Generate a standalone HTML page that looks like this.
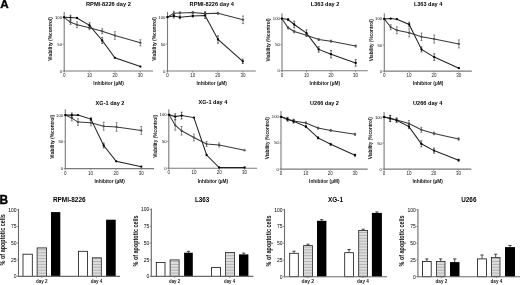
<!DOCTYPE html>
<html><head><meta charset="utf-8"><style>
html,body{margin:0;padding:0;background:#fff;}
svg{display:block;font-family:"Liberation Sans", sans-serif;filter:grayscale(1);}
</style></head><body>
<svg width="520" height="285" viewBox="0 0 520 285">
<defs><pattern id="hatch" patternUnits="userSpaceOnUse" width="4" height="2.9">
<rect width="4" height="2.9" fill="#dedede"/><rect y="0" width="4" height="1" fill="#b2b2b2"/></pattern></defs>
<rect width="520" height="285" fill="#fff"/>
<line x1="64.20" y1="12.00" x2="64.20" y2="71.50" stroke="#7a7a7a" stroke-width="1.1"/>
<line x1="63.70" y1="71.00" x2="153.00" y2="71.00" stroke="#7a7a7a" stroke-width="1.1"/>
<line x1="62.60" y1="17.30" x2="64.20" y2="17.30" stroke="#7a7a7a" stroke-width="0.8"/>
<text x="62.00" y="18.80" font-size="4.2" font-weight="normal" fill="#111" text-anchor="end" >100</text>
<line x1="62.60" y1="44.15" x2="64.20" y2="44.15" stroke="#7a7a7a" stroke-width="0.8"/>
<text x="62.00" y="45.65" font-size="4.2" font-weight="normal" fill="#111" text-anchor="end" >50</text>
<line x1="62.60" y1="71.00" x2="64.20" y2="71.00" stroke="#7a7a7a" stroke-width="0.8"/>
<text x="62.00" y="72.50" font-size="4.2" font-weight="normal" fill="#111" text-anchor="end" >0</text>
<line x1="64.20" y1="71.00" x2="64.20" y2="72.60" stroke="#7a7a7a" stroke-width="0.8"/>
<text x="64.20" y="77.00" font-size="4.5" font-weight="normal" fill="#222" text-anchor="middle" >0</text>
<line x1="89.57" y1="71.00" x2="89.57" y2="72.60" stroke="#7a7a7a" stroke-width="0.8"/>
<text x="89.57" y="77.00" font-size="4.5" font-weight="normal" fill="#222" text-anchor="middle" >10</text>
<line x1="114.93" y1="71.00" x2="114.93" y2="72.60" stroke="#7a7a7a" stroke-width="0.8"/>
<text x="114.93" y="77.00" font-size="4.5" font-weight="normal" fill="#222" text-anchor="middle" >20</text>
<line x1="140.30" y1="71.00" x2="140.30" y2="72.60" stroke="#7a7a7a" stroke-width="0.8"/>
<text x="140.30" y="77.00" font-size="4.5" font-weight="normal" fill="#222" text-anchor="middle" >30</text>
<text x="108.60" y="85.30" font-size="4.8" font-weight="bold" fill="#111" text-anchor="middle" textLength="30.50" lengthAdjust="spacingAndGlyphs" >Inhibitor (µM)</text>
<text x="52.40" y="38.90" font-size="4.6" font-weight="bold" fill="#111" text-anchor="middle" textLength="43.80" lengthAdjust="spacingAndGlyphs" transform="rotate(-90 52.40 38.90)" >Viability (%control)</text>
<text x="86.00" y="6.00" font-size="6.1" font-weight="bold" fill="#000" text-anchor="start" textLength="44.80" lengthAdjust="spacingAndGlyphs" >RPMI-8226 day 2</text>
<polyline points="64.10,17.30 70.50,22.30 77.00,24.80 89.50,27.80 102.20,31.20 114.90,35.50 140.40,42.80" fill="none" stroke="#3a3a3a" stroke-width="1.05"/>
<polyline points="64.10,17.30 70.50,17.60 77.00,18.00 89.50,25.40 102.20,40.50 114.90,57.80 140.40,66.60" fill="none" stroke="#222" stroke-width="1.05"/>
<line x1="70.50" y1="20.20" x2="70.50" y2="24.40" stroke="#444" stroke-width="0.6"/>
<line x1="69.50" y1="20.20" x2="71.50" y2="20.20" stroke="#444" stroke-width="0.6"/>
<line x1="69.50" y1="24.40" x2="71.50" y2="24.40" stroke="#444" stroke-width="0.6"/>
<line x1="77.00" y1="21.90" x2="77.00" y2="27.70" stroke="#444" stroke-width="0.6"/>
<line x1="76.00" y1="21.90" x2="78.00" y2="21.90" stroke="#444" stroke-width="0.6"/>
<line x1="76.00" y1="27.70" x2="78.00" y2="27.70" stroke="#444" stroke-width="0.6"/>
<line x1="89.50" y1="26.00" x2="89.50" y2="29.60" stroke="#444" stroke-width="0.6"/>
<line x1="88.50" y1="26.00" x2="90.50" y2="26.00" stroke="#444" stroke-width="0.6"/>
<line x1="88.50" y1="29.60" x2="90.50" y2="29.60" stroke="#444" stroke-width="0.6"/>
<line x1="102.20" y1="28.70" x2="102.20" y2="33.70" stroke="#444" stroke-width="0.6"/>
<line x1="101.20" y1="28.70" x2="103.20" y2="28.70" stroke="#444" stroke-width="0.6"/>
<line x1="101.20" y1="33.70" x2="103.20" y2="33.70" stroke="#444" stroke-width="0.6"/>
<line x1="114.90" y1="31.70" x2="114.90" y2="39.30" stroke="#444" stroke-width="0.6"/>
<line x1="113.90" y1="31.70" x2="115.90" y2="31.70" stroke="#444" stroke-width="0.6"/>
<line x1="113.90" y1="39.30" x2="115.90" y2="39.30" stroke="#444" stroke-width="0.6"/>
<line x1="140.40" y1="39.70" x2="140.40" y2="45.90" stroke="#444" stroke-width="0.6"/>
<line x1="139.40" y1="39.70" x2="141.40" y2="39.70" stroke="#444" stroke-width="0.6"/>
<line x1="139.40" y1="45.90" x2="141.40" y2="45.90" stroke="#444" stroke-width="0.6"/>
<line x1="70.50" y1="15.20" x2="70.50" y2="20.00" stroke="#111" stroke-width="0.6"/>
<line x1="69.50" y1="15.20" x2="71.50" y2="15.20" stroke="#111" stroke-width="0.6"/>
<line x1="69.50" y1="20.00" x2="71.50" y2="20.00" stroke="#111" stroke-width="0.6"/>
<line x1="89.50" y1="22.80" x2="89.50" y2="28.00" stroke="#111" stroke-width="0.6"/>
<line x1="88.50" y1="22.80" x2="90.50" y2="22.80" stroke="#111" stroke-width="0.6"/>
<line x1="88.50" y1="28.00" x2="90.50" y2="28.00" stroke="#111" stroke-width="0.6"/>
<line x1="102.20" y1="37.60" x2="102.20" y2="43.40" stroke="#111" stroke-width="0.6"/>
<line x1="101.20" y1="37.60" x2="103.20" y2="37.60" stroke="#111" stroke-width="0.6"/>
<line x1="101.20" y1="43.40" x2="103.20" y2="43.40" stroke="#111" stroke-width="0.6"/>
<circle cx="64.10" cy="17.30" r="0.95" fill="#555" stroke="#333" stroke-width="0.3"/>
<circle cx="70.50" cy="22.30" r="0.95" fill="#555" stroke="#333" stroke-width="0.3"/>
<circle cx="77.00" cy="24.80" r="0.95" fill="#555" stroke="#333" stroke-width="0.3"/>
<circle cx="89.50" cy="27.80" r="0.95" fill="#555" stroke="#333" stroke-width="0.3"/>
<circle cx="102.20" cy="31.20" r="0.95" fill="#555" stroke="#333" stroke-width="0.3"/>
<circle cx="114.90" cy="35.50" r="0.95" fill="#555" stroke="#333" stroke-width="0.3"/>
<circle cx="140.40" cy="42.80" r="0.95" fill="#555" stroke="#333" stroke-width="0.3"/>
<circle cx="64.10" cy="17.30" r="1.15" fill="#000" stroke="none" stroke-width="0"/>
<circle cx="70.50" cy="17.60" r="1.15" fill="#000" stroke="none" stroke-width="0"/>
<circle cx="77.00" cy="18.00" r="1.15" fill="#000" stroke="none" stroke-width="0"/>
<circle cx="89.50" cy="25.40" r="1.15" fill="#000" stroke="none" stroke-width="0"/>
<circle cx="102.20" cy="40.50" r="1.15" fill="#000" stroke="none" stroke-width="0"/>
<circle cx="114.90" cy="57.80" r="1.15" fill="#000" stroke="none" stroke-width="0"/>
<circle cx="140.40" cy="66.60" r="1.15" fill="#000" stroke="none" stroke-width="0"/>
<line x1="167.50" y1="11.90" x2="167.50" y2="71.50" stroke="#7a7a7a" stroke-width="1.1"/>
<line x1="167.00" y1="71.00" x2="255.80" y2="71.00" stroke="#7a7a7a" stroke-width="1.1"/>
<line x1="165.90" y1="17.15" x2="167.50" y2="17.15" stroke="#7a7a7a" stroke-width="0.8"/>
<text x="165.30" y="18.65" font-size="4.2" font-weight="normal" fill="#111" text-anchor="end" >100</text>
<line x1="165.90" y1="44.08" x2="167.50" y2="44.08" stroke="#7a7a7a" stroke-width="0.8"/>
<text x="165.30" y="45.58" font-size="4.2" font-weight="normal" fill="#111" text-anchor="end" >50</text>
<line x1="165.90" y1="71.00" x2="167.50" y2="71.00" stroke="#7a7a7a" stroke-width="0.8"/>
<text x="165.30" y="72.50" font-size="4.2" font-weight="normal" fill="#111" text-anchor="end" >0</text>
<line x1="167.50" y1="71.00" x2="167.50" y2="72.60" stroke="#7a7a7a" stroke-width="0.8"/>
<text x="167.50" y="77.00" font-size="4.5" font-weight="normal" fill="#222" text-anchor="middle" >0</text>
<line x1="192.67" y1="71.00" x2="192.67" y2="72.60" stroke="#7a7a7a" stroke-width="0.8"/>
<text x="192.67" y="77.00" font-size="4.5" font-weight="normal" fill="#222" text-anchor="middle" >10</text>
<line x1="217.83" y1="71.00" x2="217.83" y2="72.60" stroke="#7a7a7a" stroke-width="0.8"/>
<text x="217.83" y="77.00" font-size="4.5" font-weight="normal" fill="#222" text-anchor="middle" >20</text>
<line x1="243.00" y1="71.00" x2="243.00" y2="72.60" stroke="#7a7a7a" stroke-width="0.8"/>
<text x="243.00" y="77.00" font-size="4.5" font-weight="normal" fill="#222" text-anchor="middle" >30</text>
<text x="211.65" y="85.30" font-size="4.8" font-weight="bold" fill="#111" text-anchor="middle" textLength="30.50" lengthAdjust="spacingAndGlyphs" >Inhibitor (µM)</text>
<text x="156.20" y="38.90" font-size="4.6" font-weight="bold" fill="#111" text-anchor="middle" textLength="43.80" lengthAdjust="spacingAndGlyphs" transform="rotate(-90 156.20 38.90)" >Viability (%control)</text>
<text x="189.60" y="6.00" font-size="6.1" font-weight="bold" fill="#000" text-anchor="start" textLength="44.40" lengthAdjust="spacingAndGlyphs" >RPMI-8226 day 4</text>
<polyline points="167.50,17.10 173.80,13.20 179.90,12.90 192.80,12.50 205.10,13.60 218.00,13.30 243.00,19.80" fill="none" stroke="#3a3a3a" stroke-width="1.05"/>
<polyline points="167.50,17.10 173.80,16.00 179.90,17.30 192.80,16.00 205.10,15.50 218.00,39.50 242.80,61.30" fill="none" stroke="#222" stroke-width="1.05"/>
<line x1="173.80" y1="11.20" x2="173.80" y2="15.20" stroke="#444" stroke-width="0.6"/>
<line x1="172.80" y1="11.20" x2="174.80" y2="11.20" stroke="#444" stroke-width="0.6"/>
<line x1="172.80" y1="15.20" x2="174.80" y2="15.20" stroke="#444" stroke-width="0.6"/>
<line x1="179.90" y1="11.90" x2="179.90" y2="13.90" stroke="#444" stroke-width="0.6"/>
<line x1="178.90" y1="11.90" x2="180.90" y2="11.90" stroke="#444" stroke-width="0.6"/>
<line x1="178.90" y1="13.90" x2="180.90" y2="13.90" stroke="#444" stroke-width="0.6"/>
<line x1="192.80" y1="11.50" x2="192.80" y2="13.50" stroke="#444" stroke-width="0.6"/>
<line x1="191.80" y1="11.50" x2="193.80" y2="11.50" stroke="#444" stroke-width="0.6"/>
<line x1="191.80" y1="13.50" x2="193.80" y2="13.50" stroke="#444" stroke-width="0.6"/>
<line x1="205.10" y1="11.60" x2="205.10" y2="15.60" stroke="#444" stroke-width="0.6"/>
<line x1="204.10" y1="11.60" x2="206.10" y2="11.60" stroke="#444" stroke-width="0.6"/>
<line x1="204.10" y1="15.60" x2="206.10" y2="15.60" stroke="#444" stroke-width="0.6"/>
<line x1="218.00" y1="12.30" x2="218.00" y2="14.30" stroke="#444" stroke-width="0.6"/>
<line x1="217.00" y1="12.30" x2="219.00" y2="12.30" stroke="#444" stroke-width="0.6"/>
<line x1="217.00" y1="14.30" x2="219.00" y2="14.30" stroke="#444" stroke-width="0.6"/>
<line x1="243.00" y1="16.00" x2="243.00" y2="23.60" stroke="#444" stroke-width="0.6"/>
<line x1="242.00" y1="16.00" x2="244.00" y2="16.00" stroke="#444" stroke-width="0.6"/>
<line x1="242.00" y1="23.60" x2="244.00" y2="23.60" stroke="#444" stroke-width="0.6"/>
<line x1="173.80" y1="14.00" x2="173.80" y2="18.00" stroke="#111" stroke-width="0.6"/>
<line x1="172.80" y1="14.00" x2="174.80" y2="14.00" stroke="#111" stroke-width="0.6"/>
<line x1="172.80" y1="18.00" x2="174.80" y2="18.00" stroke="#111" stroke-width="0.6"/>
<line x1="179.90" y1="15.80" x2="179.90" y2="18.80" stroke="#111" stroke-width="0.6"/>
<line x1="178.90" y1="15.80" x2="180.90" y2="15.80" stroke="#111" stroke-width="0.6"/>
<line x1="178.90" y1="18.80" x2="180.90" y2="18.80" stroke="#111" stroke-width="0.6"/>
<line x1="192.80" y1="15.00" x2="192.80" y2="17.00" stroke="#111" stroke-width="0.6"/>
<line x1="191.80" y1="15.00" x2="193.80" y2="15.00" stroke="#111" stroke-width="0.6"/>
<line x1="191.80" y1="17.00" x2="193.80" y2="17.00" stroke="#111" stroke-width="0.6"/>
<line x1="205.10" y1="12.50" x2="205.10" y2="18.50" stroke="#111" stroke-width="0.6"/>
<line x1="204.10" y1="12.50" x2="206.10" y2="12.50" stroke="#111" stroke-width="0.6"/>
<line x1="204.10" y1="18.50" x2="206.10" y2="18.50" stroke="#111" stroke-width="0.6"/>
<line x1="218.00" y1="35.80" x2="218.00" y2="43.20" stroke="#111" stroke-width="0.6"/>
<line x1="217.00" y1="35.80" x2="219.00" y2="35.80" stroke="#111" stroke-width="0.6"/>
<line x1="217.00" y1="43.20" x2="219.00" y2="43.20" stroke="#111" stroke-width="0.6"/>
<line x1="242.80" y1="59.10" x2="242.80" y2="63.50" stroke="#111" stroke-width="0.6"/>
<line x1="241.80" y1="59.10" x2="243.80" y2="59.10" stroke="#111" stroke-width="0.6"/>
<line x1="241.80" y1="63.50" x2="243.80" y2="63.50" stroke="#111" stroke-width="0.6"/>
<circle cx="167.50" cy="17.10" r="0.95" fill="#555" stroke="#333" stroke-width="0.3"/>
<circle cx="173.80" cy="13.20" r="0.95" fill="#555" stroke="#333" stroke-width="0.3"/>
<circle cx="179.90" cy="12.90" r="0.95" fill="#555" stroke="#333" stroke-width="0.3"/>
<circle cx="192.80" cy="12.50" r="0.95" fill="#555" stroke="#333" stroke-width="0.3"/>
<circle cx="205.10" cy="13.60" r="0.95" fill="#555" stroke="#333" stroke-width="0.3"/>
<circle cx="218.00" cy="13.30" r="0.95" fill="#555" stroke="#333" stroke-width="0.3"/>
<circle cx="243.00" cy="19.80" r="0.95" fill="#555" stroke="#333" stroke-width="0.3"/>
<circle cx="167.50" cy="17.10" r="1.15" fill="#000" stroke="none" stroke-width="0"/>
<circle cx="173.80" cy="16.00" r="1.15" fill="#000" stroke="none" stroke-width="0"/>
<circle cx="179.90" cy="17.30" r="1.15" fill="#000" stroke="none" stroke-width="0"/>
<circle cx="192.80" cy="16.00" r="1.15" fill="#000" stroke="none" stroke-width="0"/>
<circle cx="205.10" cy="15.50" r="1.15" fill="#000" stroke="none" stroke-width="0"/>
<circle cx="218.00" cy="39.50" r="1.15" fill="#000" stroke="none" stroke-width="0"/>
<circle cx="242.80" cy="61.30" r="1.15" fill="#000" stroke="none" stroke-width="0"/>
<line x1="282.00" y1="13.20" x2="282.00" y2="71.30" stroke="#7a7a7a" stroke-width="1.1"/>
<line x1="281.50" y1="70.80" x2="367.70" y2="70.80" stroke="#7a7a7a" stroke-width="1.1"/>
<line x1="280.40" y1="18.60" x2="282.00" y2="18.60" stroke="#7a7a7a" stroke-width="0.8"/>
<text x="279.80" y="20.10" font-size="4.2" font-weight="normal" fill="#111" text-anchor="end" >100</text>
<line x1="280.40" y1="44.70" x2="282.00" y2="44.70" stroke="#7a7a7a" stroke-width="0.8"/>
<text x="279.80" y="46.20" font-size="4.2" font-weight="normal" fill="#111" text-anchor="end" >50</text>
<line x1="280.40" y1="70.80" x2="282.00" y2="70.80" stroke="#7a7a7a" stroke-width="0.8"/>
<text x="279.80" y="72.30" font-size="4.2" font-weight="normal" fill="#111" text-anchor="end" >0</text>
<line x1="282.00" y1="70.80" x2="282.00" y2="72.40" stroke="#7a7a7a" stroke-width="0.8"/>
<text x="282.00" y="76.80" font-size="4.5" font-weight="normal" fill="#222" text-anchor="middle" >0</text>
<line x1="306.53" y1="70.80" x2="306.53" y2="72.40" stroke="#7a7a7a" stroke-width="0.8"/>
<text x="306.53" y="76.80" font-size="4.5" font-weight="normal" fill="#222" text-anchor="middle" >10</text>
<line x1="331.07" y1="70.80" x2="331.07" y2="72.40" stroke="#7a7a7a" stroke-width="0.8"/>
<text x="331.07" y="76.80" font-size="4.5" font-weight="normal" fill="#222" text-anchor="middle" >20</text>
<line x1="355.60" y1="70.80" x2="355.60" y2="72.40" stroke="#7a7a7a" stroke-width="0.8"/>
<text x="355.60" y="76.80" font-size="4.5" font-weight="normal" fill="#222" text-anchor="middle" >30</text>
<text x="324.85" y="85.10" font-size="4.8" font-weight="bold" fill="#111" text-anchor="middle" textLength="30.50" lengthAdjust="spacingAndGlyphs" >Inhibitor (µM)</text>
<text x="270.50" y="39.95" font-size="4.6" font-weight="bold" fill="#111" text-anchor="middle" textLength="43.30" lengthAdjust="spacingAndGlyphs" transform="rotate(-90 270.50 39.95)" >Viability (%control)</text>
<text x="310.80" y="6.00" font-size="6.1" font-weight="bold" fill="#000" text-anchor="start" textLength="28.60" lengthAdjust="spacingAndGlyphs" >L363 day 2</text>
<polyline points="281.90,18.60 288.10,27.80 294.20,31.50 306.50,35.20 318.70,39.50 331.00,41.20 355.70,46.00" fill="none" stroke="#3a3a3a" stroke-width="1.05"/>
<polyline points="281.90,18.60 288.10,19.60 294.20,24.50 306.50,33.10 318.70,49.40 331.00,54.20 355.70,62.90" fill="none" stroke="#222" stroke-width="1.05"/>
<line x1="288.10" y1="26.80" x2="288.10" y2="28.80" stroke="#444" stroke-width="0.6"/>
<line x1="287.10" y1="26.80" x2="289.10" y2="26.80" stroke="#444" stroke-width="0.6"/>
<line x1="287.10" y1="28.80" x2="289.10" y2="28.80" stroke="#444" stroke-width="0.6"/>
<line x1="294.20" y1="30.20" x2="294.20" y2="32.80" stroke="#444" stroke-width="0.6"/>
<line x1="293.20" y1="30.20" x2="295.20" y2="30.20" stroke="#444" stroke-width="0.6"/>
<line x1="293.20" y1="32.80" x2="295.20" y2="32.80" stroke="#444" stroke-width="0.6"/>
<line x1="306.50" y1="34.20" x2="306.50" y2="36.20" stroke="#444" stroke-width="0.6"/>
<line x1="305.50" y1="34.20" x2="307.50" y2="34.20" stroke="#444" stroke-width="0.6"/>
<line x1="305.50" y1="36.20" x2="307.50" y2="36.20" stroke="#444" stroke-width="0.6"/>
<line x1="318.70" y1="38.50" x2="318.70" y2="40.50" stroke="#444" stroke-width="0.6"/>
<line x1="317.70" y1="38.50" x2="319.70" y2="38.50" stroke="#444" stroke-width="0.6"/>
<line x1="317.70" y1="40.50" x2="319.70" y2="40.50" stroke="#444" stroke-width="0.6"/>
<line x1="331.00" y1="40.20" x2="331.00" y2="42.20" stroke="#444" stroke-width="0.6"/>
<line x1="330.00" y1="40.20" x2="332.00" y2="40.20" stroke="#444" stroke-width="0.6"/>
<line x1="330.00" y1="42.20" x2="332.00" y2="42.20" stroke="#444" stroke-width="0.6"/>
<line x1="355.70" y1="45.00" x2="355.70" y2="47.00" stroke="#444" stroke-width="0.6"/>
<line x1="354.70" y1="45.00" x2="356.70" y2="45.00" stroke="#444" stroke-width="0.6"/>
<line x1="354.70" y1="47.00" x2="356.70" y2="47.00" stroke="#444" stroke-width="0.6"/>
<line x1="288.10" y1="18.60" x2="288.10" y2="20.60" stroke="#111" stroke-width="0.6"/>
<line x1="287.10" y1="18.60" x2="289.10" y2="18.60" stroke="#111" stroke-width="0.6"/>
<line x1="287.10" y1="20.60" x2="289.10" y2="20.60" stroke="#111" stroke-width="0.6"/>
<line x1="294.20" y1="21.20" x2="294.20" y2="27.80" stroke="#111" stroke-width="0.6"/>
<line x1="293.20" y1="21.20" x2="295.20" y2="21.20" stroke="#111" stroke-width="0.6"/>
<line x1="293.20" y1="27.80" x2="295.20" y2="27.80" stroke="#111" stroke-width="0.6"/>
<line x1="306.50" y1="29.90" x2="306.50" y2="36.30" stroke="#111" stroke-width="0.6"/>
<line x1="305.50" y1="29.90" x2="307.50" y2="29.90" stroke="#111" stroke-width="0.6"/>
<line x1="305.50" y1="36.30" x2="307.50" y2="36.30" stroke="#111" stroke-width="0.6"/>
<line x1="318.70" y1="46.70" x2="318.70" y2="52.10" stroke="#111" stroke-width="0.6"/>
<line x1="317.70" y1="46.70" x2="319.70" y2="46.70" stroke="#111" stroke-width="0.6"/>
<line x1="317.70" y1="52.10" x2="319.70" y2="52.10" stroke="#111" stroke-width="0.6"/>
<line x1="331.00" y1="50.50" x2="331.00" y2="57.90" stroke="#111" stroke-width="0.6"/>
<line x1="330.00" y1="50.50" x2="332.00" y2="50.50" stroke="#111" stroke-width="0.6"/>
<line x1="330.00" y1="57.90" x2="332.00" y2="57.90" stroke="#111" stroke-width="0.6"/>
<line x1="355.70" y1="59.60" x2="355.70" y2="66.20" stroke="#111" stroke-width="0.6"/>
<line x1="354.70" y1="59.60" x2="356.70" y2="59.60" stroke="#111" stroke-width="0.6"/>
<line x1="354.70" y1="66.20" x2="356.70" y2="66.20" stroke="#111" stroke-width="0.6"/>
<circle cx="281.90" cy="18.60" r="0.95" fill="#555" stroke="#333" stroke-width="0.3"/>
<circle cx="288.10" cy="27.80" r="0.95" fill="#555" stroke="#333" stroke-width="0.3"/>
<circle cx="294.20" cy="31.50" r="0.95" fill="#555" stroke="#333" stroke-width="0.3"/>
<circle cx="306.50" cy="35.20" r="0.95" fill="#555" stroke="#333" stroke-width="0.3"/>
<circle cx="318.70" cy="39.50" r="0.95" fill="#555" stroke="#333" stroke-width="0.3"/>
<circle cx="331.00" cy="41.20" r="0.95" fill="#555" stroke="#333" stroke-width="0.3"/>
<circle cx="355.70" cy="46.00" r="0.95" fill="#555" stroke="#333" stroke-width="0.3"/>
<circle cx="281.90" cy="18.60" r="1.15" fill="#000" stroke="none" stroke-width="0"/>
<circle cx="288.10" cy="19.60" r="1.15" fill="#000" stroke="none" stroke-width="0"/>
<circle cx="294.20" cy="24.50" r="1.15" fill="#000" stroke="none" stroke-width="0"/>
<circle cx="306.50" cy="33.10" r="1.15" fill="#000" stroke="none" stroke-width="0"/>
<circle cx="318.70" cy="49.40" r="1.15" fill="#000" stroke="none" stroke-width="0"/>
<circle cx="331.00" cy="54.20" r="1.15" fill="#000" stroke="none" stroke-width="0"/>
<circle cx="355.70" cy="62.90" r="1.15" fill="#000" stroke="none" stroke-width="0"/>
<line x1="384.30" y1="13.30" x2="384.30" y2="71.60" stroke="#7a7a7a" stroke-width="1.1"/>
<line x1="383.80" y1="71.10" x2="471.80" y2="71.10" stroke="#7a7a7a" stroke-width="1.1"/>
<line x1="382.70" y1="18.90" x2="384.30" y2="18.90" stroke="#7a7a7a" stroke-width="0.8"/>
<text x="382.10" y="20.40" font-size="4.2" font-weight="normal" fill="#111" text-anchor="end" >100</text>
<line x1="382.70" y1="45.00" x2="384.30" y2="45.00" stroke="#7a7a7a" stroke-width="0.8"/>
<text x="382.10" y="46.50" font-size="4.2" font-weight="normal" fill="#111" text-anchor="end" >50</text>
<line x1="382.70" y1="71.10" x2="384.30" y2="71.10" stroke="#7a7a7a" stroke-width="0.8"/>
<text x="382.10" y="72.60" font-size="4.2" font-weight="normal" fill="#111" text-anchor="end" >0</text>
<line x1="384.30" y1="71.10" x2="384.30" y2="72.70" stroke="#7a7a7a" stroke-width="0.8"/>
<text x="384.30" y="77.10" font-size="4.5" font-weight="normal" fill="#222" text-anchor="middle" >0</text>
<line x1="409.13" y1="71.10" x2="409.13" y2="72.70" stroke="#7a7a7a" stroke-width="0.8"/>
<text x="409.13" y="77.10" font-size="4.5" font-weight="normal" fill="#222" text-anchor="middle" >10</text>
<line x1="433.97" y1="71.10" x2="433.97" y2="72.70" stroke="#7a7a7a" stroke-width="0.8"/>
<text x="433.97" y="77.10" font-size="4.5" font-weight="normal" fill="#222" text-anchor="middle" >20</text>
<line x1="458.80" y1="71.10" x2="458.80" y2="72.70" stroke="#7a7a7a" stroke-width="0.8"/>
<text x="458.80" y="77.10" font-size="4.5" font-weight="normal" fill="#222" text-anchor="middle" >30</text>
<text x="428.05" y="85.40" font-size="4.8" font-weight="bold" fill="#111" text-anchor="middle" textLength="30.50" lengthAdjust="spacingAndGlyphs" >Inhibitor (µM)</text>
<text x="372.80" y="40.15" font-size="4.6" font-weight="bold" fill="#111" text-anchor="middle" textLength="42.10" lengthAdjust="spacingAndGlyphs" transform="rotate(-90 372.80 40.15)" >Viability (%control)</text>
<text x="413.90" y="6.20" font-size="6.1" font-weight="bold" fill="#000" text-anchor="start" textLength="28.40" lengthAdjust="spacingAndGlyphs" >L363 day 4</text>
<polyline points="384.30,18.90 390.70,27.20 396.90,30.30 409.20,32.80 421.50,36.80 434.20,39.00 458.90,43.90" fill="none" stroke="#3a3a3a" stroke-width="1.05"/>
<polyline points="384.30,18.90 390.70,18.60 396.90,19.20 409.20,24.50 421.50,49.40 434.20,57.10 458.90,68.20" fill="none" stroke="#222" stroke-width="1.05"/>
<line x1="390.70" y1="24.70" x2="390.70" y2="29.70" stroke="#444" stroke-width="0.6"/>
<line x1="389.70" y1="24.70" x2="391.70" y2="24.70" stroke="#444" stroke-width="0.6"/>
<line x1="389.70" y1="29.70" x2="391.70" y2="29.70" stroke="#444" stroke-width="0.6"/>
<line x1="396.90" y1="26.90" x2="396.90" y2="33.70" stroke="#444" stroke-width="0.6"/>
<line x1="395.90" y1="26.90" x2="397.90" y2="26.90" stroke="#444" stroke-width="0.6"/>
<line x1="395.90" y1="33.70" x2="397.90" y2="33.70" stroke="#444" stroke-width="0.6"/>
<line x1="409.20" y1="28.80" x2="409.20" y2="36.80" stroke="#444" stroke-width="0.6"/>
<line x1="408.20" y1="28.80" x2="410.20" y2="28.80" stroke="#444" stroke-width="0.6"/>
<line x1="408.20" y1="36.80" x2="410.20" y2="36.80" stroke="#444" stroke-width="0.6"/>
<line x1="421.50" y1="33.10" x2="421.50" y2="40.50" stroke="#444" stroke-width="0.6"/>
<line x1="420.50" y1="33.10" x2="422.50" y2="33.10" stroke="#444" stroke-width="0.6"/>
<line x1="420.50" y1="40.50" x2="422.50" y2="40.50" stroke="#444" stroke-width="0.6"/>
<line x1="434.20" y1="35.00" x2="434.20" y2="43.00" stroke="#444" stroke-width="0.6"/>
<line x1="433.20" y1="35.00" x2="435.20" y2="35.00" stroke="#444" stroke-width="0.6"/>
<line x1="433.20" y1="43.00" x2="435.20" y2="43.00" stroke="#444" stroke-width="0.6"/>
<line x1="458.90" y1="39.90" x2="458.90" y2="47.90" stroke="#444" stroke-width="0.6"/>
<line x1="457.90" y1="39.90" x2="459.90" y2="39.90" stroke="#444" stroke-width="0.6"/>
<line x1="457.90" y1="47.90" x2="459.90" y2="47.90" stroke="#444" stroke-width="0.6"/>
<line x1="409.20" y1="22.20" x2="409.20" y2="26.80" stroke="#111" stroke-width="0.6"/>
<line x1="408.20" y1="22.20" x2="410.20" y2="22.20" stroke="#111" stroke-width="0.6"/>
<line x1="408.20" y1="26.80" x2="410.20" y2="26.80" stroke="#111" stroke-width="0.6"/>
<line x1="421.50" y1="46.90" x2="421.50" y2="51.90" stroke="#111" stroke-width="0.6"/>
<line x1="420.50" y1="46.90" x2="422.50" y2="46.90" stroke="#111" stroke-width="0.6"/>
<line x1="420.50" y1="51.90" x2="422.50" y2="51.90" stroke="#111" stroke-width="0.6"/>
<line x1="434.20" y1="53.80" x2="434.20" y2="60.40" stroke="#111" stroke-width="0.6"/>
<line x1="433.20" y1="53.80" x2="435.20" y2="53.80" stroke="#111" stroke-width="0.6"/>
<line x1="433.20" y1="60.40" x2="435.20" y2="60.40" stroke="#111" stroke-width="0.6"/>
<circle cx="384.30" cy="18.90" r="0.95" fill="#555" stroke="#333" stroke-width="0.3"/>
<circle cx="390.70" cy="27.20" r="0.95" fill="#555" stroke="#333" stroke-width="0.3"/>
<circle cx="396.90" cy="30.30" r="0.95" fill="#555" stroke="#333" stroke-width="0.3"/>
<circle cx="409.20" cy="32.80" r="0.95" fill="#555" stroke="#333" stroke-width="0.3"/>
<circle cx="421.50" cy="36.80" r="0.95" fill="#555" stroke="#333" stroke-width="0.3"/>
<circle cx="434.20" cy="39.00" r="0.95" fill="#555" stroke="#333" stroke-width="0.3"/>
<circle cx="458.90" cy="43.90" r="0.95" fill="#555" stroke="#333" stroke-width="0.3"/>
<circle cx="384.30" cy="18.90" r="1.15" fill="#000" stroke="none" stroke-width="0"/>
<circle cx="390.70" cy="18.60" r="1.15" fill="#000" stroke="none" stroke-width="0"/>
<circle cx="396.90" cy="19.20" r="1.15" fill="#000" stroke="none" stroke-width="0"/>
<circle cx="409.20" cy="24.50" r="1.15" fill="#000" stroke="none" stroke-width="0"/>
<circle cx="421.50" cy="49.40" r="1.15" fill="#000" stroke="none" stroke-width="0"/>
<circle cx="434.20" cy="57.10" r="1.15" fill="#000" stroke="none" stroke-width="0"/>
<circle cx="458.90" cy="68.20" r="1.15" fill="#000" stroke="none" stroke-width="0"/>
<line x1="65.30" y1="109.20" x2="65.30" y2="169.10" stroke="#7a7a7a" stroke-width="1.1"/>
<line x1="64.80" y1="168.60" x2="154.00" y2="168.60" stroke="#7a7a7a" stroke-width="1.1"/>
<line x1="63.70" y1="115.10" x2="65.30" y2="115.10" stroke="#7a7a7a" stroke-width="0.8"/>
<text x="63.10" y="116.60" font-size="4.2" font-weight="normal" fill="#111" text-anchor="end" >100</text>
<line x1="63.70" y1="141.85" x2="65.30" y2="141.85" stroke="#7a7a7a" stroke-width="0.8"/>
<text x="63.10" y="143.35" font-size="4.2" font-weight="normal" fill="#111" text-anchor="end" >50</text>
<line x1="63.70" y1="168.60" x2="65.30" y2="168.60" stroke="#7a7a7a" stroke-width="0.8"/>
<text x="63.10" y="170.10" font-size="4.2" font-weight="normal" fill="#111" text-anchor="end" >0</text>
<line x1="65.30" y1="168.60" x2="65.30" y2="170.20" stroke="#7a7a7a" stroke-width="0.8"/>
<text x="65.30" y="174.60" font-size="4.5" font-weight="normal" fill="#222" text-anchor="middle" >0</text>
<line x1="90.63" y1="168.60" x2="90.63" y2="170.20" stroke="#7a7a7a" stroke-width="0.8"/>
<text x="90.63" y="174.60" font-size="4.5" font-weight="normal" fill="#222" text-anchor="middle" >10</text>
<line x1="115.97" y1="168.60" x2="115.97" y2="170.20" stroke="#7a7a7a" stroke-width="0.8"/>
<text x="115.97" y="174.60" font-size="4.5" font-weight="normal" fill="#222" text-anchor="middle" >20</text>
<line x1="141.30" y1="168.60" x2="141.30" y2="170.20" stroke="#7a7a7a" stroke-width="0.8"/>
<text x="141.30" y="174.60" font-size="4.5" font-weight="normal" fill="#222" text-anchor="middle" >30</text>
<text x="109.65" y="182.90" font-size="4.8" font-weight="bold" fill="#111" text-anchor="middle" textLength="30.50" lengthAdjust="spacingAndGlyphs" >Inhibitor (µM)</text>
<text x="54.10" y="136.80" font-size="4.6" font-weight="bold" fill="#111" text-anchor="middle" textLength="44.00" lengthAdjust="spacingAndGlyphs" transform="rotate(-90 54.10 136.80)" >Viability (%control)</text>
<text x="95.60" y="104.60" font-size="6.1" font-weight="bold" fill="#000" text-anchor="start" textLength="28.80" lengthAdjust="spacingAndGlyphs" >XG-1 day 2</text>
<polyline points="65.40,115.10 71.80,118.10 78.00,122.10 90.90,122.80 103.70,126.20 116.60,127.00 141.30,130.40" fill="none" stroke="#3a3a3a" stroke-width="1.05"/>
<polyline points="65.40,115.10 71.80,115.10 78.00,115.10 90.90,119.10 103.70,145.50 116.20,161.30 141.30,166.70" fill="none" stroke="#222" stroke-width="1.05"/>
<line x1="71.80" y1="115.30" x2="71.80" y2="120.90" stroke="#444" stroke-width="0.6"/>
<line x1="70.80" y1="115.30" x2="72.80" y2="115.30" stroke="#444" stroke-width="0.6"/>
<line x1="70.80" y1="120.90" x2="72.80" y2="120.90" stroke="#444" stroke-width="0.6"/>
<line x1="78.00" y1="118.80" x2="78.00" y2="125.40" stroke="#444" stroke-width="0.6"/>
<line x1="77.00" y1="118.80" x2="79.00" y2="118.80" stroke="#444" stroke-width="0.6"/>
<line x1="77.00" y1="125.40" x2="79.00" y2="125.40" stroke="#444" stroke-width="0.6"/>
<line x1="90.90" y1="119.80" x2="90.90" y2="125.80" stroke="#444" stroke-width="0.6"/>
<line x1="89.90" y1="119.80" x2="91.90" y2="119.80" stroke="#444" stroke-width="0.6"/>
<line x1="89.90" y1="125.80" x2="91.90" y2="125.80" stroke="#444" stroke-width="0.6"/>
<line x1="103.70" y1="122.20" x2="103.70" y2="130.20" stroke="#444" stroke-width="0.6"/>
<line x1="102.70" y1="122.20" x2="104.70" y2="122.20" stroke="#444" stroke-width="0.6"/>
<line x1="102.70" y1="130.20" x2="104.70" y2="130.20" stroke="#444" stroke-width="0.6"/>
<line x1="116.60" y1="122.70" x2="116.60" y2="131.30" stroke="#444" stroke-width="0.6"/>
<line x1="115.60" y1="122.70" x2="117.60" y2="122.70" stroke="#444" stroke-width="0.6"/>
<line x1="115.60" y1="131.30" x2="117.60" y2="131.30" stroke="#444" stroke-width="0.6"/>
<line x1="141.30" y1="126.50" x2="141.30" y2="134.30" stroke="#444" stroke-width="0.6"/>
<line x1="140.30" y1="126.50" x2="142.30" y2="126.50" stroke="#444" stroke-width="0.6"/>
<line x1="140.30" y1="134.30" x2="142.30" y2="134.30" stroke="#444" stroke-width="0.6"/>
<line x1="71.80" y1="113.00" x2="71.80" y2="117.20" stroke="#111" stroke-width="0.6"/>
<line x1="70.80" y1="113.00" x2="72.80" y2="113.00" stroke="#111" stroke-width="0.6"/>
<line x1="70.80" y1="117.20" x2="72.80" y2="117.20" stroke="#111" stroke-width="0.6"/>
<line x1="90.90" y1="117.70" x2="90.90" y2="120.50" stroke="#111" stroke-width="0.6"/>
<line x1="89.90" y1="117.70" x2="91.90" y2="117.70" stroke="#111" stroke-width="0.6"/>
<line x1="89.90" y1="120.50" x2="91.90" y2="120.50" stroke="#111" stroke-width="0.6"/>
<line x1="103.70" y1="143.10" x2="103.70" y2="147.90" stroke="#111" stroke-width="0.6"/>
<line x1="102.70" y1="143.10" x2="104.70" y2="143.10" stroke="#111" stroke-width="0.6"/>
<line x1="102.70" y1="147.90" x2="104.70" y2="147.90" stroke="#111" stroke-width="0.6"/>
<circle cx="65.40" cy="115.10" r="0.95" fill="#555" stroke="#333" stroke-width="0.3"/>
<circle cx="71.80" cy="118.10" r="0.95" fill="#555" stroke="#333" stroke-width="0.3"/>
<circle cx="78.00" cy="122.10" r="0.95" fill="#555" stroke="#333" stroke-width="0.3"/>
<circle cx="90.90" cy="122.80" r="0.95" fill="#555" stroke="#333" stroke-width="0.3"/>
<circle cx="103.70" cy="126.20" r="0.95" fill="#555" stroke="#333" stroke-width="0.3"/>
<circle cx="116.60" cy="127.00" r="0.95" fill="#555" stroke="#333" stroke-width="0.3"/>
<circle cx="141.30" cy="130.40" r="0.95" fill="#555" stroke="#333" stroke-width="0.3"/>
<circle cx="65.40" cy="115.10" r="1.15" fill="#000" stroke="none" stroke-width="0"/>
<circle cx="71.80" cy="115.10" r="1.15" fill="#000" stroke="none" stroke-width="0"/>
<circle cx="78.00" cy="115.10" r="1.15" fill="#000" stroke="none" stroke-width="0"/>
<circle cx="90.90" cy="119.10" r="1.15" fill="#000" stroke="none" stroke-width="0"/>
<circle cx="103.70" cy="145.50" r="1.15" fill="#000" stroke="none" stroke-width="0"/>
<circle cx="116.20" cy="161.30" r="1.15" fill="#000" stroke="none" stroke-width="0"/>
<circle cx="141.30" cy="166.70" r="1.15" fill="#000" stroke="none" stroke-width="0"/>
<line x1="168.80" y1="109.20" x2="168.80" y2="168.70" stroke="#7a7a7a" stroke-width="1.1"/>
<line x1="168.30" y1="168.20" x2="257.10" y2="168.20" stroke="#7a7a7a" stroke-width="1.1"/>
<line x1="167.20" y1="114.80" x2="168.80" y2="114.80" stroke="#7a7a7a" stroke-width="0.8"/>
<text x="166.60" y="116.30" font-size="4.2" font-weight="normal" fill="#111" text-anchor="end" >100</text>
<line x1="167.20" y1="141.50" x2="168.80" y2="141.50" stroke="#7a7a7a" stroke-width="0.8"/>
<text x="166.60" y="143.00" font-size="4.2" font-weight="normal" fill="#111" text-anchor="end" >50</text>
<line x1="167.20" y1="168.20" x2="168.80" y2="168.20" stroke="#7a7a7a" stroke-width="0.8"/>
<text x="166.60" y="169.70" font-size="4.2" font-weight="normal" fill="#111" text-anchor="end" >0</text>
<line x1="168.80" y1="168.20" x2="168.80" y2="169.80" stroke="#7a7a7a" stroke-width="0.8"/>
<text x="168.80" y="174.20" font-size="4.5" font-weight="normal" fill="#222" text-anchor="middle" >0</text>
<line x1="194.03" y1="168.20" x2="194.03" y2="169.80" stroke="#7a7a7a" stroke-width="0.8"/>
<text x="194.03" y="174.20" font-size="4.5" font-weight="normal" fill="#222" text-anchor="middle" >10</text>
<line x1="219.27" y1="168.20" x2="219.27" y2="169.80" stroke="#7a7a7a" stroke-width="0.8"/>
<text x="219.27" y="174.20" font-size="4.5" font-weight="normal" fill="#222" text-anchor="middle" >20</text>
<line x1="244.50" y1="168.20" x2="244.50" y2="169.80" stroke="#7a7a7a" stroke-width="0.8"/>
<text x="244.50" y="174.20" font-size="4.5" font-weight="normal" fill="#222" text-anchor="middle" >30</text>
<text x="212.95" y="182.50" font-size="4.8" font-weight="bold" fill="#111" text-anchor="middle" textLength="30.50" lengthAdjust="spacingAndGlyphs" >Inhibitor (µM)</text>
<text x="157.30" y="136.30" font-size="4.6" font-weight="bold" fill="#111" text-anchor="middle" textLength="43.00" lengthAdjust="spacingAndGlyphs" transform="rotate(-90 157.30 136.30)" >Viability (%control)</text>
<text x="198.50" y="103.90" font-size="6.1" font-weight="bold" fill="#000" text-anchor="start" textLength="28.80" lengthAdjust="spacingAndGlyphs" >XG-1 day 4</text>
<polyline points="169.10,114.80 175.20,125.20 181.60,130.80 193.90,137.50 206.60,144.00 219.10,144.90 244.60,150.30" fill="none" stroke="#3a3a3a" stroke-width="1.05"/>
<polyline points="169.10,114.80 175.20,116.60 181.60,115.60 193.90,117.60 206.60,155.00 219.10,167.50 244.60,167.50" fill="none" stroke="#222" stroke-width="1.05"/>
<line x1="175.20" y1="120.20" x2="175.20" y2="130.20" stroke="#444" stroke-width="0.6"/>
<line x1="174.20" y1="120.20" x2="176.20" y2="120.20" stroke="#444" stroke-width="0.6"/>
<line x1="174.20" y1="130.20" x2="176.20" y2="130.20" stroke="#444" stroke-width="0.6"/>
<line x1="181.60" y1="126.50" x2="181.60" y2="135.10" stroke="#444" stroke-width="0.6"/>
<line x1="180.60" y1="126.50" x2="182.60" y2="126.50" stroke="#444" stroke-width="0.6"/>
<line x1="180.60" y1="135.10" x2="182.60" y2="135.10" stroke="#444" stroke-width="0.6"/>
<line x1="193.90" y1="134.10" x2="193.90" y2="140.90" stroke="#444" stroke-width="0.6"/>
<line x1="192.90" y1="134.10" x2="194.90" y2="134.10" stroke="#444" stroke-width="0.6"/>
<line x1="192.90" y1="140.90" x2="194.90" y2="140.90" stroke="#444" stroke-width="0.6"/>
<line x1="206.60" y1="141.50" x2="206.60" y2="146.50" stroke="#444" stroke-width="0.6"/>
<line x1="205.60" y1="141.50" x2="207.60" y2="141.50" stroke="#444" stroke-width="0.6"/>
<line x1="205.60" y1="146.50" x2="207.60" y2="146.50" stroke="#444" stroke-width="0.6"/>
<line x1="219.10" y1="142.90" x2="219.10" y2="146.90" stroke="#444" stroke-width="0.6"/>
<line x1="218.10" y1="142.90" x2="220.10" y2="142.90" stroke="#444" stroke-width="0.6"/>
<line x1="218.10" y1="146.90" x2="220.10" y2="146.90" stroke="#444" stroke-width="0.6"/>
<line x1="175.20" y1="113.80" x2="175.20" y2="119.40" stroke="#111" stroke-width="0.6"/>
<line x1="174.20" y1="113.80" x2="176.20" y2="113.80" stroke="#111" stroke-width="0.6"/>
<line x1="174.20" y1="119.40" x2="176.20" y2="119.40" stroke="#111" stroke-width="0.6"/>
<line x1="181.60" y1="112.20" x2="181.60" y2="119.00" stroke="#111" stroke-width="0.6"/>
<line x1="180.60" y1="112.20" x2="182.60" y2="112.20" stroke="#111" stroke-width="0.6"/>
<line x1="180.60" y1="119.00" x2="182.60" y2="119.00" stroke="#111" stroke-width="0.6"/>
<circle cx="169.10" cy="114.80" r="0.95" fill="#555" stroke="#333" stroke-width="0.3"/>
<circle cx="175.20" cy="125.20" r="0.95" fill="#555" stroke="#333" stroke-width="0.3"/>
<circle cx="181.60" cy="130.80" r="0.95" fill="#555" stroke="#333" stroke-width="0.3"/>
<circle cx="193.90" cy="137.50" r="0.95" fill="#555" stroke="#333" stroke-width="0.3"/>
<circle cx="206.60" cy="144.00" r="0.95" fill="#555" stroke="#333" stroke-width="0.3"/>
<circle cx="219.10" cy="144.90" r="0.95" fill="#555" stroke="#333" stroke-width="0.3"/>
<circle cx="244.60" cy="150.30" r="0.95" fill="#555" stroke="#333" stroke-width="0.3"/>
<circle cx="169.10" cy="114.80" r="1.15" fill="#000" stroke="none" stroke-width="0"/>
<circle cx="175.20" cy="116.60" r="1.15" fill="#000" stroke="none" stroke-width="0"/>
<circle cx="181.60" cy="115.60" r="1.15" fill="#000" stroke="none" stroke-width="0"/>
<circle cx="193.90" cy="117.60" r="1.15" fill="#000" stroke="none" stroke-width="0"/>
<circle cx="206.60" cy="155.00" r="1.15" fill="#000" stroke="none" stroke-width="0"/>
<circle cx="219.10" cy="167.50" r="1.15" fill="#000" stroke="none" stroke-width="0"/>
<circle cx="244.60" cy="167.50" r="1.15" fill="#000" stroke="none" stroke-width="0"/>
<line x1="281.00" y1="110.90" x2="281.00" y2="169.60" stroke="#7a7a7a" stroke-width="1.1"/>
<line x1="280.50" y1="169.10" x2="367.60" y2="169.10" stroke="#7a7a7a" stroke-width="1.1"/>
<line x1="279.40" y1="116.80" x2="281.00" y2="116.80" stroke="#7a7a7a" stroke-width="0.8"/>
<text x="278.80" y="118.30" font-size="4.2" font-weight="normal" fill="#111" text-anchor="end" >100</text>
<line x1="279.40" y1="142.95" x2="281.00" y2="142.95" stroke="#7a7a7a" stroke-width="0.8"/>
<text x="278.80" y="144.45" font-size="4.2" font-weight="normal" fill="#111" text-anchor="end" >50</text>
<line x1="279.40" y1="169.10" x2="281.00" y2="169.10" stroke="#7a7a7a" stroke-width="0.8"/>
<text x="278.80" y="170.60" font-size="4.2" font-weight="normal" fill="#111" text-anchor="end" >0</text>
<line x1="281.00" y1="169.10" x2="281.00" y2="170.70" stroke="#7a7a7a" stroke-width="0.8"/>
<text x="281.00" y="175.10" font-size="4.5" font-weight="normal" fill="#222" text-anchor="middle" >0</text>
<line x1="305.67" y1="169.10" x2="305.67" y2="170.70" stroke="#7a7a7a" stroke-width="0.8"/>
<text x="305.67" y="175.10" font-size="4.5" font-weight="normal" fill="#222" text-anchor="middle" >10</text>
<line x1="330.33" y1="169.10" x2="330.33" y2="170.70" stroke="#7a7a7a" stroke-width="0.8"/>
<text x="330.33" y="175.10" font-size="4.5" font-weight="normal" fill="#222" text-anchor="middle" >20</text>
<line x1="355.00" y1="169.10" x2="355.00" y2="170.70" stroke="#7a7a7a" stroke-width="0.8"/>
<text x="355.00" y="175.10" font-size="4.5" font-weight="normal" fill="#222" text-anchor="middle" >30</text>
<text x="324.30" y="183.40" font-size="4.8" font-weight="bold" fill="#111" text-anchor="middle" textLength="30.50" lengthAdjust="spacingAndGlyphs" >Inhibitor (µM)</text>
<text x="269.10" y="138.25" font-size="4.6" font-weight="bold" fill="#111" text-anchor="middle" textLength="42.10" lengthAdjust="spacingAndGlyphs" transform="rotate(-90 269.10 138.25)" >Viability (%control)</text>
<text x="310.10" y="104.60" font-size="6.1" font-weight="bold" fill="#000" text-anchor="start" textLength="28.80" lengthAdjust="spacingAndGlyphs" >U266 day 2</text>
<polyline points="281.10,116.80 287.50,119.00 293.60,120.90 305.90,122.90 318.10,128.10 330.70,130.40 355.00,134.30" fill="none" stroke="#3a3a3a" stroke-width="1.05"/>
<polyline points="281.10,116.80 287.50,119.40 293.60,121.30 305.90,126.60 318.10,137.90 330.70,144.30 355.00,155.20" fill="none" stroke="#222" stroke-width="1.05"/>
<line x1="287.50" y1="117.30" x2="287.50" y2="120.70" stroke="#444" stroke-width="0.6"/>
<line x1="286.50" y1="117.30" x2="288.50" y2="117.30" stroke="#444" stroke-width="0.6"/>
<line x1="286.50" y1="120.70" x2="288.50" y2="120.70" stroke="#444" stroke-width="0.6"/>
<line x1="293.60" y1="119.20" x2="293.60" y2="122.60" stroke="#444" stroke-width="0.6"/>
<line x1="292.60" y1="119.20" x2="294.60" y2="119.20" stroke="#444" stroke-width="0.6"/>
<line x1="292.60" y1="122.60" x2="294.60" y2="122.60" stroke="#444" stroke-width="0.6"/>
<line x1="305.90" y1="121.90" x2="305.90" y2="123.90" stroke="#444" stroke-width="0.6"/>
<line x1="304.90" y1="121.90" x2="306.90" y2="121.90" stroke="#444" stroke-width="0.6"/>
<line x1="304.90" y1="123.90" x2="306.90" y2="123.90" stroke="#444" stroke-width="0.6"/>
<line x1="318.10" y1="127.10" x2="318.10" y2="129.10" stroke="#444" stroke-width="0.6"/>
<line x1="317.10" y1="127.10" x2="319.10" y2="127.10" stroke="#444" stroke-width="0.6"/>
<line x1="317.10" y1="129.10" x2="319.10" y2="129.10" stroke="#444" stroke-width="0.6"/>
<line x1="330.70" y1="129.40" x2="330.70" y2="131.40" stroke="#444" stroke-width="0.6"/>
<line x1="329.70" y1="129.40" x2="331.70" y2="129.40" stroke="#444" stroke-width="0.6"/>
<line x1="329.70" y1="131.40" x2="331.70" y2="131.40" stroke="#444" stroke-width="0.6"/>
<line x1="355.00" y1="133.30" x2="355.00" y2="135.30" stroke="#444" stroke-width="0.6"/>
<line x1="354.00" y1="133.30" x2="356.00" y2="133.30" stroke="#444" stroke-width="0.6"/>
<line x1="354.00" y1="135.30" x2="356.00" y2="135.30" stroke="#444" stroke-width="0.6"/>
<line x1="287.50" y1="117.70" x2="287.50" y2="121.10" stroke="#111" stroke-width="0.6"/>
<line x1="286.50" y1="117.70" x2="288.50" y2="117.70" stroke="#111" stroke-width="0.6"/>
<line x1="286.50" y1="121.10" x2="288.50" y2="121.10" stroke="#111" stroke-width="0.6"/>
<line x1="293.60" y1="119.60" x2="293.60" y2="123.00" stroke="#111" stroke-width="0.6"/>
<line x1="292.60" y1="119.60" x2="294.60" y2="119.60" stroke="#111" stroke-width="0.6"/>
<line x1="292.60" y1="123.00" x2="294.60" y2="123.00" stroke="#111" stroke-width="0.6"/>
<line x1="305.90" y1="125.60" x2="305.90" y2="127.60" stroke="#111" stroke-width="0.6"/>
<line x1="304.90" y1="125.60" x2="306.90" y2="125.60" stroke="#111" stroke-width="0.6"/>
<line x1="304.90" y1="127.60" x2="306.90" y2="127.60" stroke="#111" stroke-width="0.6"/>
<line x1="318.10" y1="136.90" x2="318.10" y2="138.90" stroke="#111" stroke-width="0.6"/>
<line x1="317.10" y1="136.90" x2="319.10" y2="136.90" stroke="#111" stroke-width="0.6"/>
<line x1="317.10" y1="138.90" x2="319.10" y2="138.90" stroke="#111" stroke-width="0.6"/>
<line x1="330.70" y1="143.30" x2="330.70" y2="145.30" stroke="#111" stroke-width="0.6"/>
<line x1="329.70" y1="143.30" x2="331.70" y2="143.30" stroke="#111" stroke-width="0.6"/>
<line x1="329.70" y1="145.30" x2="331.70" y2="145.30" stroke="#111" stroke-width="0.6"/>
<line x1="355.00" y1="154.20" x2="355.00" y2="156.20" stroke="#111" stroke-width="0.6"/>
<line x1="354.00" y1="154.20" x2="356.00" y2="154.20" stroke="#111" stroke-width="0.6"/>
<line x1="354.00" y1="156.20" x2="356.00" y2="156.20" stroke="#111" stroke-width="0.6"/>
<circle cx="281.10" cy="116.80" r="0.95" fill="#555" stroke="#333" stroke-width="0.3"/>
<circle cx="287.50" cy="119.00" r="0.95" fill="#555" stroke="#333" stroke-width="0.3"/>
<circle cx="293.60" cy="120.90" r="0.95" fill="#555" stroke="#333" stroke-width="0.3"/>
<circle cx="305.90" cy="122.90" r="0.95" fill="#555" stroke="#333" stroke-width="0.3"/>
<circle cx="318.10" cy="128.10" r="0.95" fill="#555" stroke="#333" stroke-width="0.3"/>
<circle cx="330.70" cy="130.40" r="0.95" fill="#555" stroke="#333" stroke-width="0.3"/>
<circle cx="355.00" cy="134.30" r="0.95" fill="#555" stroke="#333" stroke-width="0.3"/>
<circle cx="281.10" cy="116.80" r="1.15" fill="#000" stroke="none" stroke-width="0"/>
<circle cx="287.50" cy="119.40" r="1.15" fill="#000" stroke="none" stroke-width="0"/>
<circle cx="293.60" cy="121.30" r="1.15" fill="#000" stroke="none" stroke-width="0"/>
<circle cx="305.90" cy="126.60" r="1.15" fill="#000" stroke="none" stroke-width="0"/>
<circle cx="318.10" cy="137.90" r="1.15" fill="#000" stroke="none" stroke-width="0"/>
<circle cx="330.70" cy="144.30" r="1.15" fill="#000" stroke="none" stroke-width="0"/>
<circle cx="355.00" cy="155.20" r="1.15" fill="#000" stroke="none" stroke-width="0"/>
<line x1="384.10" y1="112.00" x2="384.10" y2="169.60" stroke="#7a7a7a" stroke-width="1.1"/>
<line x1="383.60" y1="169.10" x2="471.30" y2="169.10" stroke="#7a7a7a" stroke-width="1.1"/>
<line x1="382.50" y1="117.00" x2="384.10" y2="117.00" stroke="#7a7a7a" stroke-width="0.8"/>
<text x="381.90" y="118.50" font-size="4.2" font-weight="normal" fill="#111" text-anchor="end" >100</text>
<line x1="382.50" y1="143.05" x2="384.10" y2="143.05" stroke="#7a7a7a" stroke-width="0.8"/>
<text x="381.90" y="144.55" font-size="4.2" font-weight="normal" fill="#111" text-anchor="end" >50</text>
<line x1="382.50" y1="169.10" x2="384.10" y2="169.10" stroke="#7a7a7a" stroke-width="0.8"/>
<text x="381.90" y="170.60" font-size="4.2" font-weight="normal" fill="#111" text-anchor="end" >0</text>
<line x1="384.10" y1="169.10" x2="384.10" y2="170.70" stroke="#7a7a7a" stroke-width="0.8"/>
<text x="384.10" y="175.10" font-size="4.5" font-weight="normal" fill="#222" text-anchor="middle" >0</text>
<line x1="408.90" y1="169.10" x2="408.90" y2="170.70" stroke="#7a7a7a" stroke-width="0.8"/>
<text x="408.90" y="175.10" font-size="4.5" font-weight="normal" fill="#222" text-anchor="middle" >10</text>
<line x1="433.70" y1="169.10" x2="433.70" y2="170.70" stroke="#7a7a7a" stroke-width="0.8"/>
<text x="433.70" y="175.10" font-size="4.5" font-weight="normal" fill="#222" text-anchor="middle" >20</text>
<line x1="458.50" y1="169.10" x2="458.50" y2="170.70" stroke="#7a7a7a" stroke-width="0.8"/>
<text x="458.50" y="175.10" font-size="4.5" font-weight="normal" fill="#222" text-anchor="middle" >30</text>
<text x="427.70" y="183.40" font-size="4.8" font-weight="bold" fill="#111" text-anchor="middle" textLength="30.50" lengthAdjust="spacingAndGlyphs" >Inhibitor (µM)</text>
<text x="371.70" y="138.25" font-size="4.6" font-weight="bold" fill="#111" text-anchor="middle" textLength="42.10" lengthAdjust="spacingAndGlyphs" transform="rotate(-90 371.70 138.25)" >Viability (%control)</text>
<text x="413.00" y="104.60" font-size="6.1" font-weight="bold" fill="#000" text-anchor="start" textLength="29.30" lengthAdjust="spacingAndGlyphs" >U266 day 4</text>
<polyline points="384.10,117.10 390.20,118.20 396.60,119.90 408.90,123.50 421.30,129.80 434.00,133.40 458.60,139.00" fill="none" stroke="#3a3a3a" stroke-width="1.05"/>
<polyline points="384.10,117.10 390.20,118.60 396.60,120.30 408.90,126.60 421.30,143.80 434.00,150.60 458.60,160.20" fill="none" stroke="#222" stroke-width="1.05"/>
<line x1="390.20" y1="115.20" x2="390.20" y2="121.20" stroke="#444" stroke-width="0.6"/>
<line x1="389.20" y1="115.20" x2="391.20" y2="115.20" stroke="#444" stroke-width="0.6"/>
<line x1="389.20" y1="121.20" x2="391.20" y2="121.20" stroke="#444" stroke-width="0.6"/>
<line x1="396.60" y1="117.90" x2="396.60" y2="121.90" stroke="#444" stroke-width="0.6"/>
<line x1="395.60" y1="117.90" x2="397.60" y2="117.90" stroke="#444" stroke-width="0.6"/>
<line x1="395.60" y1="121.90" x2="397.60" y2="121.90" stroke="#444" stroke-width="0.6"/>
<line x1="408.90" y1="120.50" x2="408.90" y2="126.50" stroke="#444" stroke-width="0.6"/>
<line x1="407.90" y1="120.50" x2="409.90" y2="120.50" stroke="#444" stroke-width="0.6"/>
<line x1="407.90" y1="126.50" x2="409.90" y2="126.50" stroke="#444" stroke-width="0.6"/>
<line x1="421.30" y1="127.30" x2="421.30" y2="132.30" stroke="#444" stroke-width="0.6"/>
<line x1="420.30" y1="127.30" x2="422.30" y2="127.30" stroke="#444" stroke-width="0.6"/>
<line x1="420.30" y1="132.30" x2="422.30" y2="132.30" stroke="#444" stroke-width="0.6"/>
<line x1="434.00" y1="132.10" x2="434.00" y2="134.70" stroke="#444" stroke-width="0.6"/>
<line x1="433.00" y1="132.10" x2="435.00" y2="132.10" stroke="#444" stroke-width="0.6"/>
<line x1="433.00" y1="134.70" x2="435.00" y2="134.70" stroke="#444" stroke-width="0.6"/>
<line x1="458.60" y1="137.80" x2="458.60" y2="140.20" stroke="#444" stroke-width="0.6"/>
<line x1="457.60" y1="137.80" x2="459.60" y2="137.80" stroke="#444" stroke-width="0.6"/>
<line x1="457.60" y1="140.20" x2="459.60" y2="140.20" stroke="#444" stroke-width="0.6"/>
<line x1="390.20" y1="115.60" x2="390.20" y2="121.60" stroke="#111" stroke-width="0.6"/>
<line x1="389.20" y1="115.60" x2="391.20" y2="115.60" stroke="#111" stroke-width="0.6"/>
<line x1="389.20" y1="121.60" x2="391.20" y2="121.60" stroke="#111" stroke-width="0.6"/>
<line x1="396.60" y1="118.30" x2="396.60" y2="122.30" stroke="#111" stroke-width="0.6"/>
<line x1="395.60" y1="118.30" x2="397.60" y2="118.30" stroke="#111" stroke-width="0.6"/>
<line x1="395.60" y1="122.30" x2="397.60" y2="122.30" stroke="#111" stroke-width="0.6"/>
<line x1="408.90" y1="124.60" x2="408.90" y2="128.60" stroke="#111" stroke-width="0.6"/>
<line x1="407.90" y1="124.60" x2="409.90" y2="124.60" stroke="#111" stroke-width="0.6"/>
<line x1="407.90" y1="128.60" x2="409.90" y2="128.60" stroke="#111" stroke-width="0.6"/>
<line x1="421.30" y1="140.80" x2="421.30" y2="146.80" stroke="#111" stroke-width="0.6"/>
<line x1="420.30" y1="140.80" x2="422.30" y2="140.80" stroke="#111" stroke-width="0.6"/>
<line x1="420.30" y1="146.80" x2="422.30" y2="146.80" stroke="#111" stroke-width="0.6"/>
<line x1="434.00" y1="148.10" x2="434.00" y2="153.10" stroke="#111" stroke-width="0.6"/>
<line x1="433.00" y1="148.10" x2="435.00" y2="148.10" stroke="#111" stroke-width="0.6"/>
<line x1="433.00" y1="153.10" x2="435.00" y2="153.10" stroke="#111" stroke-width="0.6"/>
<line x1="458.60" y1="159.20" x2="458.60" y2="161.20" stroke="#111" stroke-width="0.6"/>
<line x1="457.60" y1="159.20" x2="459.60" y2="159.20" stroke="#111" stroke-width="0.6"/>
<line x1="457.60" y1="161.20" x2="459.60" y2="161.20" stroke="#111" stroke-width="0.6"/>
<circle cx="384.10" cy="117.10" r="0.95" fill="#555" stroke="#333" stroke-width="0.3"/>
<circle cx="390.20" cy="118.20" r="0.95" fill="#555" stroke="#333" stroke-width="0.3"/>
<circle cx="396.60" cy="119.90" r="0.95" fill="#555" stroke="#333" stroke-width="0.3"/>
<circle cx="408.90" cy="123.50" r="0.95" fill="#555" stroke="#333" stroke-width="0.3"/>
<circle cx="421.30" cy="129.80" r="0.95" fill="#555" stroke="#333" stroke-width="0.3"/>
<circle cx="434.00" cy="133.40" r="0.95" fill="#555" stroke="#333" stroke-width="0.3"/>
<circle cx="458.60" cy="139.00" r="0.95" fill="#555" stroke="#333" stroke-width="0.3"/>
<circle cx="384.10" cy="117.10" r="1.15" fill="#000" stroke="none" stroke-width="0"/>
<circle cx="390.20" cy="118.60" r="1.15" fill="#000" stroke="none" stroke-width="0"/>
<circle cx="396.60" cy="120.30" r="1.15" fill="#000" stroke="none" stroke-width="0"/>
<circle cx="408.90" cy="126.60" r="1.15" fill="#000" stroke="none" stroke-width="0"/>
<circle cx="421.30" cy="143.80" r="1.15" fill="#000" stroke="none" stroke-width="0"/>
<circle cx="434.00" cy="150.60" r="1.15" fill="#000" stroke="none" stroke-width="0"/>
<circle cx="458.60" cy="160.20" r="1.15" fill="#000" stroke="none" stroke-width="0"/>
<rect x="23.00" y="254.20" width="9.30" height="22.20" fill="#fff" stroke="#111" stroke-width="0.8"/>
<rect x="37.10" y="247.90" width="9.50" height="28.50" fill="url(#hatch)" stroke="#222" stroke-width="0.8"/>
<rect x="51.00" y="212.10" width="9.30" height="64.30" fill="#000" stroke="none" stroke-width="0"/>
<rect x="78.50" y="251.30" width="9.00" height="25.10" fill="#fff" stroke="#111" stroke-width="0.8"/>
<rect x="92.30" y="257.80" width="9.00" height="18.60" fill="url(#hatch)" stroke="#222" stroke-width="0.8"/>
<rect x="106.10" y="219.70" width="9.60" height="56.70" fill="#000" stroke="none" stroke-width="0"/>
<line x1="18.50" y1="209.00" x2="18.50" y2="276.90" stroke="#666" stroke-width="1.1"/>
<line x1="18.00" y1="276.40" x2="120.00" y2="276.40" stroke="#6a6a6a" stroke-width="1.1"/>
<line x1="16.90" y1="209.80" x2="18.50" y2="209.80" stroke="#7a7a7a" stroke-width="0.8"/>
<text x="16.50" y="211.70" font-size="5" font-weight="normal" fill="#000" text-anchor="end" >100</text>
<line x1="16.90" y1="226.45" x2="18.50" y2="226.45" stroke="#7a7a7a" stroke-width="0.8"/>
<text x="16.50" y="228.35" font-size="5" font-weight="normal" fill="#000" text-anchor="end" >75</text>
<line x1="16.90" y1="243.10" x2="18.50" y2="243.10" stroke="#7a7a7a" stroke-width="0.8"/>
<text x="16.50" y="245.00" font-size="5" font-weight="normal" fill="#000" text-anchor="end" >50</text>
<line x1="16.90" y1="259.75" x2="18.50" y2="259.75" stroke="#7a7a7a" stroke-width="0.8"/>
<text x="16.50" y="261.65" font-size="5" font-weight="normal" fill="#000" text-anchor="end" >25</text>
<line x1="16.90" y1="276.40" x2="18.50" y2="276.40" stroke="#7a7a7a" stroke-width="0.8"/>
<text x="16.50" y="278.30" font-size="5" font-weight="normal" fill="#000" text-anchor="end" >0</text>
<text x="41.75" y="283.00" font-size="4.6" font-weight="bold" fill="#222" text-anchor="middle" textLength="11.50" lengthAdjust="spacingAndGlyphs" >day 2</text>
<line x1="41.75" y1="276.40" x2="41.75" y2="277.90" stroke="#7a7a7a" stroke-width="0.8"/>
<text x="96.55" y="283.00" font-size="4.6" font-weight="bold" fill="#222" text-anchor="middle" textLength="11.70" lengthAdjust="spacingAndGlyphs" >day 4</text>
<line x1="96.55" y1="276.40" x2="96.55" y2="277.90" stroke="#7a7a7a" stroke-width="0.8"/>
<text x="52.90" y="201.50" font-size="6.5" font-weight="bold" fill="#000" text-anchor="start" textLength="32.70" lengthAdjust="spacingAndGlyphs" >RPMI-8226</text>
<text x="4.80" y="239.80" font-size="6.6" font-weight="bold" fill="#111" text-anchor="middle" textLength="51.20" lengthAdjust="spacingAndGlyphs" transform="rotate(-90 4.80 239.80)" >% of apoptotic cells</text>
<rect x="156.30" y="262.50" width="8.70" height="13.90" fill="#fff" stroke="#111" stroke-width="0.8"/>
<rect x="170.10" y="259.90" width="9.00" height="16.50" fill="url(#hatch)" stroke="#222" stroke-width="0.8"/>
<line x1="188.45" y1="251.30" x2="188.45" y2="252.70" stroke="#000" stroke-width="0.7"/>
<line x1="186.85" y1="251.30" x2="190.05" y2="251.30" stroke="#000" stroke-width="0.7"/>
<rect x="184.10" y="252.70" width="8.70" height="23.70" fill="#000" stroke="none" stroke-width="0"/>
<rect x="211.60" y="267.40" width="8.80" height="9.00" fill="#fff" stroke="#111" stroke-width="0.8"/>
<rect x="225.60" y="252.40" width="8.80" height="24.00" fill="url(#hatch)" stroke="#222" stroke-width="0.8"/>
<line x1="243.70" y1="253.10" x2="243.70" y2="254.40" stroke="#000" stroke-width="0.7"/>
<line x1="242.10" y1="253.10" x2="245.30" y2="253.10" stroke="#000" stroke-width="0.7"/>
<rect x="239.00" y="254.40" width="9.40" height="22.00" fill="#000" stroke="none" stroke-width="0"/>
<line x1="151.30" y1="208.40" x2="151.30" y2="276.90" stroke="#666" stroke-width="1.1"/>
<line x1="150.80" y1="276.40" x2="253.30" y2="276.40" stroke="#6a6a6a" stroke-width="1.1"/>
<line x1="149.70" y1="209.50" x2="151.30" y2="209.50" stroke="#7a7a7a" stroke-width="0.8"/>
<text x="149.30" y="211.40" font-size="5" font-weight="normal" fill="#000" text-anchor="end" >100</text>
<line x1="149.70" y1="226.22" x2="151.30" y2="226.22" stroke="#7a7a7a" stroke-width="0.8"/>
<text x="149.30" y="228.12" font-size="5" font-weight="normal" fill="#000" text-anchor="end" >75</text>
<line x1="149.70" y1="242.95" x2="151.30" y2="242.95" stroke="#7a7a7a" stroke-width="0.8"/>
<text x="149.30" y="244.85" font-size="5" font-weight="normal" fill="#000" text-anchor="end" >50</text>
<line x1="149.70" y1="259.67" x2="151.30" y2="259.67" stroke="#7a7a7a" stroke-width="0.8"/>
<text x="149.30" y="261.57" font-size="5" font-weight="normal" fill="#000" text-anchor="end" >25</text>
<line x1="149.70" y1="276.40" x2="151.30" y2="276.40" stroke="#7a7a7a" stroke-width="0.8"/>
<text x="149.30" y="278.30" font-size="5" font-weight="normal" fill="#000" text-anchor="end" >0</text>
<text x="174.60" y="283.00" font-size="4.6" font-weight="bold" fill="#222" text-anchor="middle" textLength="11.20" lengthAdjust="spacingAndGlyphs" >day 2</text>
<line x1="174.60" y1="276.40" x2="174.60" y2="277.90" stroke="#7a7a7a" stroke-width="0.8"/>
<text x="229.60" y="283.00" font-size="4.6" font-weight="bold" fill="#222" text-anchor="middle" textLength="11.00" lengthAdjust="spacingAndGlyphs" >day 4</text>
<line x1="229.60" y1="276.40" x2="229.60" y2="277.90" stroke="#7a7a7a" stroke-width="0.8"/>
<text x="194.90" y="201.50" font-size="6.5" font-weight="bold" fill="#000" text-anchor="start" textLength="14.40" lengthAdjust="spacingAndGlyphs" >L363</text>
<text x="137.80" y="240.90" font-size="6.6" font-weight="bold" fill="#111" text-anchor="middle" textLength="51.00" lengthAdjust="spacingAndGlyphs" transform="rotate(-90 137.80 240.90)" >% of apoptotic cells</text>
<line x1="294.00" y1="251.20" x2="294.00" y2="252.90" stroke="#000" stroke-width="0.7"/>
<line x1="292.40" y1="251.20" x2="295.60" y2="251.20" stroke="#000" stroke-width="0.7"/>
<rect x="289.70" y="253.30" width="8.60" height="23.40" fill="#fff" stroke="#111" stroke-width="0.8"/>
<line x1="308.00" y1="244.20" x2="308.00" y2="245.20" stroke="#000" stroke-width="0.7"/>
<line x1="306.40" y1="244.20" x2="309.60" y2="244.20" stroke="#000" stroke-width="0.7"/>
<rect x="303.60" y="245.60" width="8.80" height="31.10" fill="url(#hatch)" stroke="#222" stroke-width="0.8"/>
<line x1="321.70" y1="219.60" x2="321.70" y2="220.80" stroke="#000" stroke-width="0.7"/>
<line x1="320.10" y1="219.60" x2="323.30" y2="219.60" stroke="#000" stroke-width="0.7"/>
<rect x="317.00" y="220.80" width="9.40" height="55.90" fill="#000" stroke="none" stroke-width="0"/>
<line x1="349.05" y1="249.50" x2="349.05" y2="252.30" stroke="#000" stroke-width="0.7"/>
<line x1="347.45" y1="249.50" x2="350.65" y2="249.50" stroke="#000" stroke-width="0.7"/>
<rect x="344.70" y="252.70" width="8.70" height="24.00" fill="#fff" stroke="#111" stroke-width="0.8"/>
<line x1="363.15" y1="229.20" x2="363.15" y2="230.00" stroke="#000" stroke-width="0.7"/>
<line x1="361.55" y1="229.20" x2="364.75" y2="229.20" stroke="#000" stroke-width="0.7"/>
<rect x="358.70" y="230.40" width="8.90" height="46.30" fill="url(#hatch)" stroke="#222" stroke-width="0.8"/>
<line x1="376.90" y1="211.90" x2="376.90" y2="212.90" stroke="#000" stroke-width="0.7"/>
<line x1="375.30" y1="211.90" x2="378.50" y2="211.90" stroke="#000" stroke-width="0.7"/>
<rect x="371.90" y="212.90" width="10.00" height="63.80" fill="#000" stroke="none" stroke-width="0"/>
<line x1="284.50" y1="209.00" x2="284.50" y2="277.20" stroke="#6e6e6e" stroke-width="1.1"/>
<line x1="284.00" y1="276.70" x2="387.00" y2="276.70" stroke="#6a6a6a" stroke-width="1.1"/>
<line x1="282.90" y1="209.80" x2="284.50" y2="209.80" stroke="#7a7a7a" stroke-width="0.8"/>
<text x="282.50" y="211.70" font-size="5" font-weight="normal" fill="#000" text-anchor="end" >100</text>
<line x1="282.90" y1="226.53" x2="284.50" y2="226.53" stroke="#7a7a7a" stroke-width="0.8"/>
<text x="282.50" y="228.43" font-size="5" font-weight="normal" fill="#000" text-anchor="end" >75</text>
<line x1="282.90" y1="243.25" x2="284.50" y2="243.25" stroke="#7a7a7a" stroke-width="0.8"/>
<text x="282.50" y="245.15" font-size="5" font-weight="normal" fill="#000" text-anchor="end" >50</text>
<line x1="282.90" y1="259.98" x2="284.50" y2="259.98" stroke="#7a7a7a" stroke-width="0.8"/>
<text x="282.50" y="261.88" font-size="5" font-weight="normal" fill="#000" text-anchor="end" >25</text>
<line x1="282.90" y1="276.70" x2="284.50" y2="276.70" stroke="#7a7a7a" stroke-width="0.8"/>
<text x="282.50" y="278.60" font-size="5" font-weight="normal" fill="#000" text-anchor="end" >0</text>
<text x="307.70" y="283.00" font-size="4.6" font-weight="bold" fill="#222" text-anchor="middle" textLength="12.60" lengthAdjust="spacingAndGlyphs" >day 2</text>
<line x1="307.70" y1="276.70" x2="307.70" y2="278.20" stroke="#7a7a7a" stroke-width="0.8"/>
<text x="362.90" y="283.00" font-size="4.6" font-weight="bold" fill="#222" text-anchor="middle" textLength="11.80" lengthAdjust="spacingAndGlyphs" >day 4</text>
<line x1="362.90" y1="276.70" x2="362.90" y2="278.20" stroke="#7a7a7a" stroke-width="0.8"/>
<text x="328.10" y="201.50" font-size="6.5" font-weight="bold" fill="#000" text-anchor="start" textLength="14.90" lengthAdjust="spacingAndGlyphs" >XG-1</text>
<text x="270.90" y="240.90" font-size="6.6" font-weight="bold" fill="#111" text-anchor="middle" textLength="51.00" lengthAdjust="spacingAndGlyphs" transform="rotate(-90 270.90 240.90)" >% of apoptotic cells</text>
<line x1="426.85" y1="258.90" x2="426.85" y2="261.00" stroke="#000" stroke-width="0.7"/>
<line x1="425.25" y1="258.90" x2="428.45" y2="258.90" stroke="#000" stroke-width="0.7"/>
<rect x="422.50" y="261.40" width="8.70" height="15.30" fill="#fff" stroke="#111" stroke-width="0.8"/>
<line x1="440.70" y1="258.90" x2="440.70" y2="261.00" stroke="#000" stroke-width="0.7"/>
<line x1="439.10" y1="258.90" x2="442.30" y2="258.90" stroke="#000" stroke-width="0.7"/>
<rect x="436.40" y="261.40" width="8.60" height="15.30" fill="url(#hatch)" stroke="#222" stroke-width="0.8"/>
<line x1="454.75" y1="258.90" x2="454.75" y2="262.10" stroke="#000" stroke-width="0.7"/>
<line x1="453.15" y1="258.90" x2="456.35" y2="258.90" stroke="#000" stroke-width="0.7"/>
<rect x="450.00" y="262.10" width="9.50" height="14.60" fill="#000" stroke="none" stroke-width="0"/>
<line x1="482.00" y1="255.00" x2="482.00" y2="258.50" stroke="#000" stroke-width="0.7"/>
<line x1="480.40" y1="255.00" x2="483.60" y2="255.00" stroke="#000" stroke-width="0.7"/>
<rect x="477.50" y="258.90" width="9.00" height="17.80" fill="#fff" stroke="#111" stroke-width="0.8"/>
<line x1="495.70" y1="254.20" x2="495.70" y2="257.00" stroke="#000" stroke-width="0.7"/>
<line x1="494.10" y1="254.20" x2="497.30" y2="254.20" stroke="#000" stroke-width="0.7"/>
<rect x="491.40" y="257.40" width="8.60" height="19.30" fill="url(#hatch)" stroke="#222" stroke-width="0.8"/>
<line x1="510.00" y1="245.50" x2="510.00" y2="247.10" stroke="#000" stroke-width="0.7"/>
<line x1="508.40" y1="245.50" x2="511.60" y2="245.50" stroke="#000" stroke-width="0.7"/>
<rect x="505.00" y="247.10" width="10.00" height="29.60" fill="#000" stroke="none" stroke-width="0"/>
<line x1="417.90" y1="209.00" x2="417.90" y2="277.20" stroke="#9a9a9a" stroke-width="1.6"/>
<line x1="417.40" y1="276.70" x2="520.00" y2="276.70" stroke="#6a6a6a" stroke-width="1.1"/>
<line x1="416.30" y1="209.80" x2="417.90" y2="209.80" stroke="#7a7a7a" stroke-width="0.8"/>
<text x="415.90" y="211.70" font-size="5" font-weight="normal" fill="#000" text-anchor="end" >100</text>
<line x1="416.30" y1="226.53" x2="417.90" y2="226.53" stroke="#7a7a7a" stroke-width="0.8"/>
<text x="415.90" y="228.43" font-size="5" font-weight="normal" fill="#000" text-anchor="end" >75</text>
<line x1="416.30" y1="243.25" x2="417.90" y2="243.25" stroke="#7a7a7a" stroke-width="0.8"/>
<text x="415.90" y="245.15" font-size="5" font-weight="normal" fill="#000" text-anchor="end" >50</text>
<line x1="416.30" y1="259.98" x2="417.90" y2="259.98" stroke="#7a7a7a" stroke-width="0.8"/>
<text x="415.90" y="261.88" font-size="5" font-weight="normal" fill="#000" text-anchor="end" >25</text>
<line x1="416.30" y1="276.70" x2="417.90" y2="276.70" stroke="#7a7a7a" stroke-width="0.8"/>
<text x="415.90" y="278.60" font-size="5" font-weight="normal" fill="#000" text-anchor="end" >0</text>
<text x="441.40" y="283.00" font-size="4.6" font-weight="bold" fill="#222" text-anchor="middle" textLength="11.80" lengthAdjust="spacingAndGlyphs" >day 2</text>
<line x1="441.40" y1="276.70" x2="441.40" y2="278.20" stroke="#7a7a7a" stroke-width="0.8"/>
<text x="496.40" y="283.00" font-size="4.6" font-weight="bold" fill="#222" text-anchor="middle" textLength="11.80" lengthAdjust="spacingAndGlyphs" >day 4</text>
<line x1="496.40" y1="276.70" x2="496.40" y2="278.20" stroke="#7a7a7a" stroke-width="0.8"/>
<text x="461.20" y="201.50" font-size="6.5" font-weight="bold" fill="#000" text-anchor="start" textLength="15.30" lengthAdjust="spacingAndGlyphs" >U266</text>
<text x="404.50" y="240.90" font-size="6.6" font-weight="bold" fill="#111" text-anchor="middle" textLength="51.00" lengthAdjust="spacingAndGlyphs" transform="rotate(-90 404.50 240.90)" >% of apoptotic cells</text>
<text x="0.30" y="8.40" font-size="11.7" font-weight="bold" fill="#000" text-anchor="start" stroke="#000" stroke-width="0.35">A</text>
<text x="-0.40" y="203.80" font-size="11.9" font-weight="bold" fill="#000" text-anchor="start" stroke="#000" stroke-width="0.35">B</text>
</svg>
</body></html>
